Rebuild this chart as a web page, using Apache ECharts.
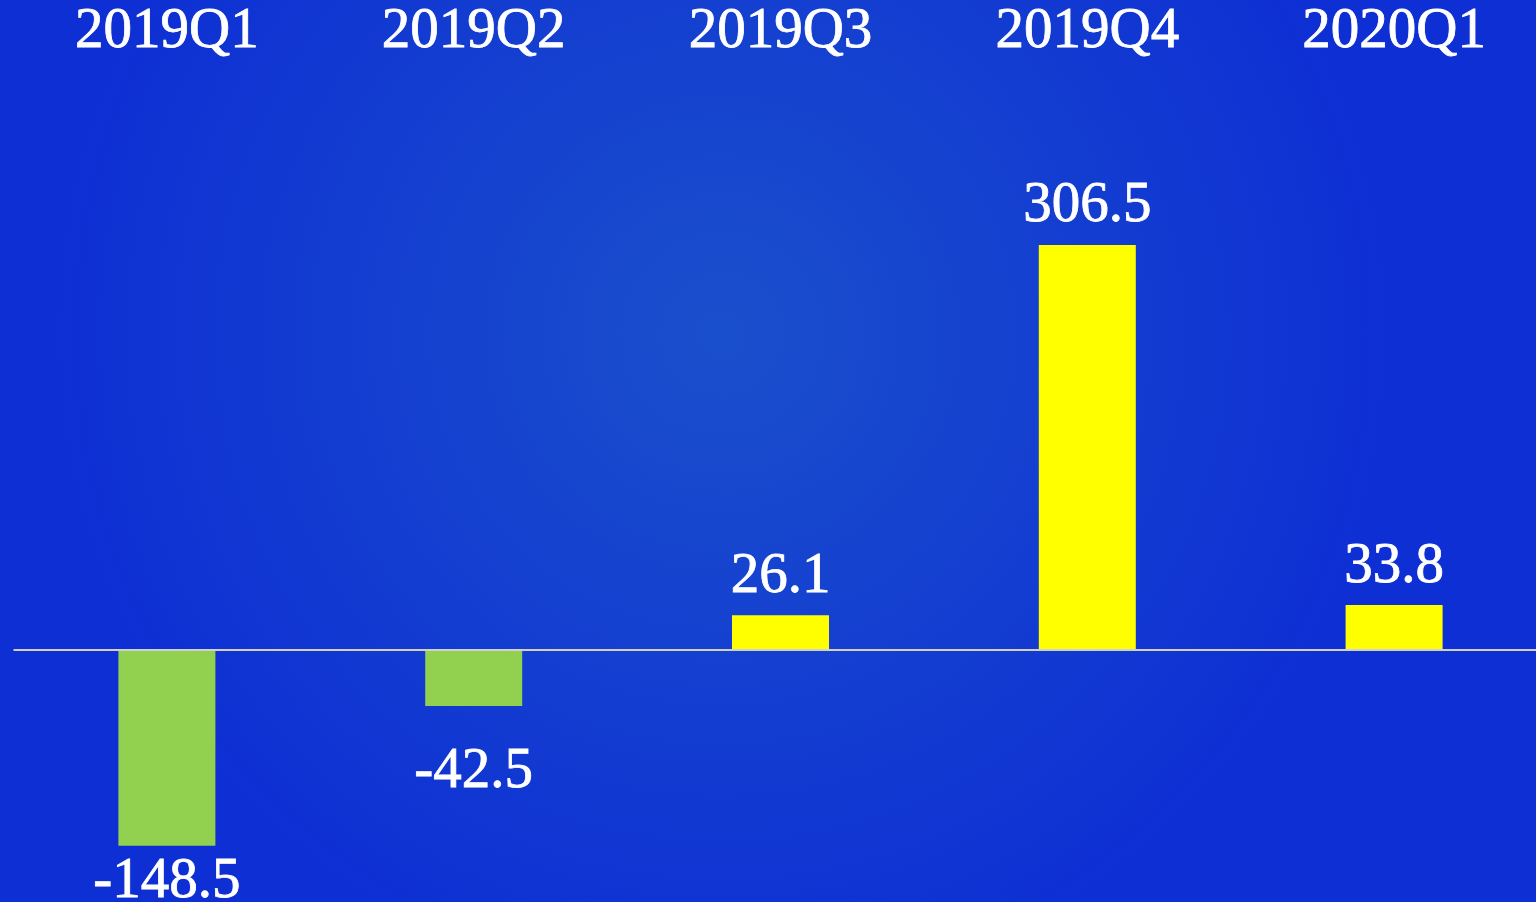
<!DOCTYPE html>
<html><head><meta charset="utf-8">
<script src="https://cdn.jsdelivr.net/npm/echarts@6/dist/echarts.min.js"></script>
<style>html,body{margin:0;padding:0;}#c{width:1536px;height:902px;}</style>
</head><body><div id="c"></div>
<script>
const categories = ['2019Q1','2019Q2','2019Q3','2019Q4','2020Q1'];
const values = [-148.5, -42.5, 26.1, 306.5, 33.8];
const negColor = '#92d050';
const posColor = '#ffff00';
const negLabelDistance = [8, 38];

const chart = echarts.init(document.getElementById('c'));
const FONT = '"Liberation Serif", serif';
const seriesData = values.map((v, i) => {
  const neg = v < 0;
  return {
    value: v,
    itemStyle: { color: neg ? negColor : posColor },
    label: neg ? { position: 'bottom', distance: negLabelDistance[i] } : { position: 'top', distance: 10 }
  };
});
chart.setOption({
  backgroundColor: {
    type: 'radial', x: 0.47, y: 0.37, r: 0.75,
    colorStops: [{ offset: 0, color: '#1a4fcc' }, { offset: 1, color: '#0e2fd4' }]
  },
  animation: false,
  grid: { left: 13.5, width: 1534, top: 0, bottom: 0, containLabel: false, outerBoundsMode: 'none' },
  xAxis: {
    type: 'category', data: categories, position: 'top',
    axisLine: { show: false }, axisTick: { show: false },
    axisLabel: { inside: true, margin: 4, color: '#ffffff', fontFamily: FONT, fontSize: 57,
      textBorderColor: '#ffffff', textBorderWidth: 0.8 }
  },
  yAxis: {
    type: 'value', min: -191, max: 492, show: false, splitLine: { show: false }
  },
  series: [{
    type: 'bar', barWidth: 97, data: seriesData,
    label: { show: true, color: '#ffffff', fontFamily: FONT, fontSize: 57,
      textBorderColor: '#ffffff', textBorderWidth: 0.8 },
    markLine: {
      silent: true, symbol: 'none', label: { show: false },
      lineStyle: { color: '#d0d0d0', width: 2, type: 'solid' },
      data: [{ yAxis: 0 }]
    }
  }]
});
</script></body></html>
